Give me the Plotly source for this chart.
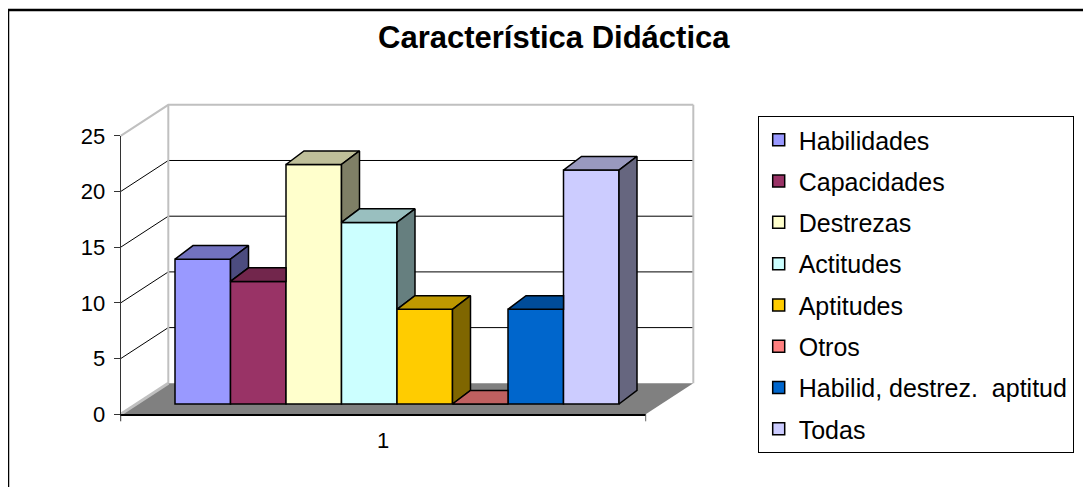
import plotly.graph_objects as go

# ---------------- data ----------------
categories = ["Habilidades", "Capacidades", "Destrezas", "Actitudes",
              "Aptitudes", "Otros", "Habilid, destrez.  aptitud", "Todas"]
values = [13.0, 11.0, 21.5, 16.3, 8.5, 0.0, 8.5, 21.0]
colors = ["#9999FF", "#993366", "#FFFFCC", "#CCFFFF",
          "#FFCC00", "#FF8080", "#0066CC", "#CCCCFF"]
y_ticks = [0, 5, 10, 15, 20, 25]
x_labels = ["1"]
title_text = "Característica Didáctica"

# ---------------- geometry (page pixels) ----------------
W, H = 1091, 487
OFF = 8                           # page body margin


def xp(p):                        # page px -> paper x
    return (p - OFF) / W


def yp(p):                        # page px -> paper y
    return 1 - (p - OFF) / H


SX, SY = 55.5, 11.14              # px per category slot / per value unit
BAR_X0 = 202.75                   # page x of first bar centre
BAR_Y0 = 404.0                    # page y of value 0 on the bar plane
AX_L, AX_R, AX_B = 120.7, 645.7, 414.3   # front plane: axis x, floor right, value 0
WALL_DX, WALL_DY = 47.6, -31.0    # front -> back wall offset
DX, DY = 18.0 / SX, 13.6 / SY     # bar depth offset (data units)
FRONT = (BAR_Y0 - AX_B) / SY      # value shift of the front (axis) plane
ymax = y_ticks[-1]
FONT = "Arial, Liberation Sans, sans-serif"


def px2x(p):
    return (p - BAR_X0) / SX


x_rng = [px2x(AX_L), px2x(AX_R)]
y_rng = [FRONT, FRONT + ymax]


def shade(hexcol, f):
    h = hexcol.lstrip("#")
    r, g, b = (int(h[i:i + 2], 16) for i in (0, 2, 4))
    return "#%02X%02X%02X" % (int(r * f), int(g * f), int(b * f))


def ppath(pts, close=True):       # page px points -> paper path
    s = "M " + " L ".join(f"{xp(x):.5f},{yp(y):.5f}" for x, y in pts)
    return s + (" Z" if close else "")


shapes = []
# floor
shapes.append(dict(type="path", xref="paper", yref="paper", layer="below",
                   path=ppath([(AX_L, AX_B), (AX_R, AX_B),
                               (AX_R + WALL_DX, AX_B + WALL_DY), (AX_L + WALL_DX, AX_B + WALL_DY)]),
                   fillcolor="#808080", line=dict(width=0)))
shapes.append(dict(type="path", xref="paper", yref="paper", layer="below",
                   path=ppath([(AX_L, AX_B), (AX_L + WALL_DX, AX_B + WALL_DY)], close=False),
                   line=dict(color="#C0C0C0", width=3)))
# gridlines: left wall diagonal + back wall horizontal
for t in y_ticks[1:]:
    col, wd = ("#C0C0C0", 2) if t == ymax else ("#000000", 1)
    yf = AX_B - SY * t
    shapes.append(dict(type="path", xref="paper", yref="paper", layer="below",
                       path=ppath([(AX_L, yf), (AX_L + WALL_DX, yf + WALL_DY),
                                   (AX_R + WALL_DX, yf + WALL_DY)], close=False),
                       line=dict(color=col, width=wd)))
# back wall vertical edges
for xx in (AX_L, AX_R):
    shapes.append(dict(type="path", xref="paper", yref="paper", layer="below",
                       path=ppath([(xx + WALL_DX, AX_B + WALL_DY),
                                   (xx + WALL_DX, AX_B + WALL_DY - SY * ymax)], close=False),
                       line=dict(color="#C0C0C0", width=2)))
# category axis end ticks
for xx, col in ((AX_L, "#333333"), (AX_R, "#666666")):
    shapes.append(dict(type="path", xref="paper", yref="paper", layer="above",
                       path=ppath([(xx, AX_B), (xx, AX_B + 7)], close=False),
                       line=dict(color=col, width=1)))
# outer chart border
shapes.append(dict(type="rect", xref="paper", yref="paper",
                   x0=xp(8), y0=-0.2, x1=1.2, y1=yp(10),
                   line=dict(color="#000000", width=2.5)))

fig = go.Figure()

# front faces as bars
for i, (name, v, c) in enumerate(zip(categories, values, colors)):
    fig.add_trace(go.Bar(x=[i], y=[v], width=1, name=name, legendgroup=name,
                         marker=dict(color=c, line=dict(color="#000000", width=1.5)),
                         hovertemplate=name + ": %{y}<extra></extra>"))

# top and side faces (visible parts), derived from the values
for i, (name, v, c) in enumerate(zip(categories, values, colors)):
    vn = values[i + 1] if i + 1 < len(values) else 0.0
    h = min(max(vn - v, 0.0), DY)
    top = [(i - 0.5, v), (i + 0.5, v)]
    if h > 0:
        top.append((i + 0.5, v + h))
    top += [(i + 0.5 + DX * (DY - h) / DY, v + DY), (i - 0.5 + DX, v + DY), (i - 0.5, v)]
    fig.add_trace(go.Scatter(x=[p[0] for p in top], y=[p[1] for p in top],
                             mode="lines", fill="toself", fillcolor=shade(c, 0.75),
                             line=dict(color="#000000", width=1.5),
                             legendgroup=name, showlegend=False, hoverinfo="skip"))
    if v > vn:
        lo = max(vn, 0.0)
        side = [(i + 0.5, lo), (i + 0.5, v), (i + 0.5 + DX, v + DY),
                (i + 0.5 + DX, lo + DY), (i + 0.5, lo)]
        fig.add_trace(go.Scatter(x=[p[0] for p in side], y=[p[1] for p in side],
                                 mode="lines", fill="toself", fillcolor=shade(c, 0.5),
                                 line=dict(color="#000000", width=1.5),
                                 legendgroup=name, showlegend=False, hoverinfo="skip"))

fig.update_layout(
    width=W, height=H,
    margin=dict(l=0, r=0, t=0, b=0),
    paper_bgcolor="white", plot_bgcolor="rgba(0,0,0,0)",
    barmode="overlay",
    font=dict(family=FONT, color="#000000"),
    shapes=shapes,
    annotations=[dict(text="<b>" + title_text + "</b>", xref="paper", yref="paper",
                      x=xp(553.9), y=yp(37), xanchor="center", yanchor="middle",
                      showarrow=False, font=dict(size=31, family=FONT, color="#000000"))],
    xaxis=dict(domain=[xp(AX_L), xp(AX_R)], range=x_rng, anchor="y",
               tickvals=[sum(x_rng) / 2], ticktext=x_labels,
               ticks="", showline=True, linecolor="#000000", linewidth=1.5,
               showgrid=False, zeroline=False,
               tickfont=dict(size=22), ticklabelstandoff=6, automargin=False,
               fixedrange=True),
    # value axis drawn on the front plane: labels y_ticks, placed at the
    # front-plane depth of the oblique projection
    yaxis=dict(domain=[yp(AX_B), yp(AX_B - SY * ymax)], range=y_rng, anchor="x",
               tickvals=[t + FRONT for t in y_ticks], ticktext=[str(t) for t in y_ticks],
               ticks="outside", ticklen=6, tickcolor="#333333",
               showline=True, linecolor="#333333", linewidth=1,
               showgrid=False, zeroline=False,
               tickfont=dict(size=22), ticklabelstandoff=4, automargin=False,
               fixedrange=True),
    legend=dict(x=xp(757.7), y=yp(116), xanchor="left", yanchor="top",
                bordercolor="#000000", borderwidth=1, bgcolor="white",
                font=dict(size=25, family=FONT), tracegroupgap=5.8,
                traceorder="grouped"),
    showlegend=True,
)

fig.write_html("out.html")
